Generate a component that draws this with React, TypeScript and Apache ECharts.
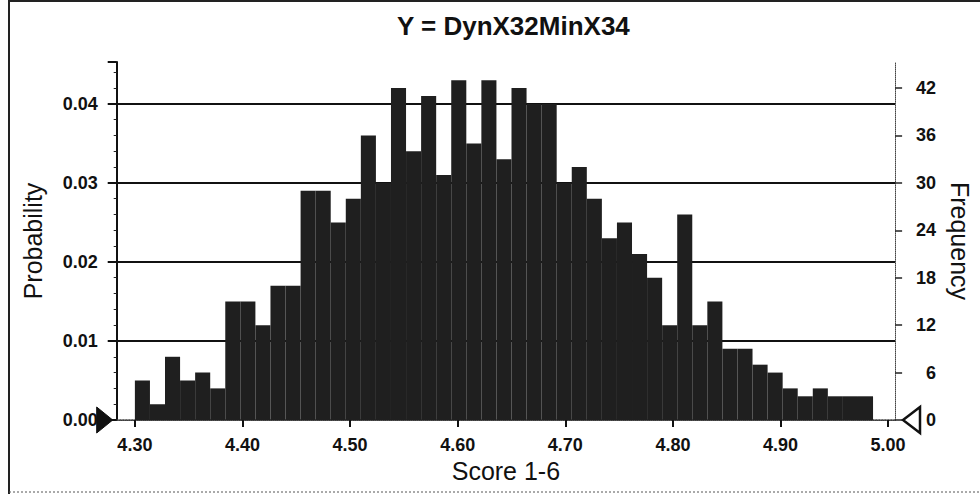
import React, { useEffect, useRef } from "react";
import * as echarts from "echarts";

const TITLE = "Y = DynX32MinX34";
const X_NAME = "Score 1-6";
const LEFT_NAME = "Probability";
const RIGHT_NAME = "Frequency";
const TRIALS = 1000;
const BIN_START = 4.3;
const BIN_WIDTH = 0.014;
const COUNTS = [
  5, 2, 8, 5, 6, 4, 15, 15, 12, 17, 17, 29, 29, 25, 28, 36,
  30, 42, 34, 41, 31, 43, 35, 43, 33, 42, 40, 40, 30, 32,
  28, 23, 25, 21, 18, 12, 26, 12, 15,
  9, 9, 7, 6, 4, 3, 4, 3, 3, 3, 0,
];
const X_TICKS = [4.3, 4.4, 4.5, 4.6, 4.7, 4.8, 4.9, 5.0];
const X_MIN = 4.2831;
const X_MAX = 5.0065;
const PROB_MAX = 0.0453;

const W = 980;
const H = 494;
const G_LEFT = 116.7;
const G_RIGHT = 80;
const G_TOP = 62;
const G_BOTTOM = 74;
const FONT = "'Liberation Sans', Arial, sans-serif";

export default function App() {
  const ref = useRef<HTMLDivElement>(null);
  useEffect(() => {
    if (!ref.current) return;
    const chart = echarts.init(ref.current, null, { renderer: "svg" });
    const data = COUNTS.map((c, i) => [
      BIN_START + i * BIN_WIDTH,
      BIN_START + (i + 1) * BIN_WIDTH,
      c,
    ]);
    const baseY = H - G_BOTTOM;
    const rightX = W - G_RIGHT;
    chart.setOption({
      animation: false,
      backgroundColor: "#ffffff",
      textStyle: { fontFamily: FONT },
      title: {
        text: TITLE,
        left: (G_LEFT + rightX) / 2,
        textAlign: "center",
        top: 8,
        textStyle: { fontFamily: FONT, fontSize: 26, fontWeight: "bold", color: "#111" },
      },
      grid: { left: G_LEFT, right: G_RIGHT, top: G_TOP, bottom: G_BOTTOM, containLabel: false },
      xAxis: [
        {
          type: "value",
          min: X_MIN,
          max: X_MAX,
          name: X_NAME,
          nameLocation: "middle",
          nameGap: 35,
          nameTextStyle: { fontFamily: FONT, fontSize: 25, color: "#111" },
          axisLine: { show: true, lineStyle: { color: "#333", width: 1, type: "dotted" } },
          axisTick: { show: true, length: 7, customValues: X_TICKS, lineStyle: { color: "#111", width: 2 } },
          axisLabel: {
            customValues: X_TICKS,
            formatter: (v: number) => v.toFixed(2),
            margin: 16,
            fontFamily: FONT,
            fontSize: 18,
            fontWeight: "bold",
            color: "#111",
          },
          splitLine: { show: false },
        },
        {
          type: "value",
          position: "top",
          min: X_MIN,
          max: X_MAX,
          axisLine: { show: true, lineStyle: { color: "#444", width: 1.5, type: "dotted" } },
          axisTick: { show: false },
          axisLabel: { show: false },
          splitLine: { show: false },
        },
      ],
      yAxis: [
        {
          type: "value",
          min: 0,
          max: PROB_MAX,
          interval: 0.01,
          name: LEFT_NAME,
          nameLocation: "middle",
          nameGap: 71,
          nameTextStyle: { fontFamily: FONT, fontSize: 25, color: "#111" },
          axisLine: { show: true, lineStyle: { color: "#111", width: 2 } },
          axisTick: { show: true, length: 9, lineStyle: { color: "#111", width: 2 } },
          minorTick: { show: true, splitNumber: 5, length: 3, lineStyle: { color: "#222", width: 1 } },
          axisLabel: {
            formatter: (v: number) => v.toFixed(2),
            margin: 19,
            fontFamily: FONT,
            fontSize: 18,
            fontWeight: "bold",
            color: "#111",
            showMaxLabel: false,
          },
          splitLine: {
            show: true,
            lineStyle: { color: ["rgba(0,0,0,0)", "#111", "#111", "#111", "#111"], width: 2 },
          },
        },
        {
          type: "value",
          min: 0,
          max: PROB_MAX * TRIALS,
          interval: 6,
          position: "right",
          name: RIGHT_NAME,
          nameLocation: "middle",
          nameGap: 50,
          nameRotate: -90,
          nameTextStyle: { fontFamily: FONT, fontSize: 25, color: "#111" },
          axisLine: { show: true, lineStyle: { color: "#444", width: 1, type: "dotted" } },
          axisTick: { show: true, length: 7, lineStyle: { color: "#222", width: 1.5 } },
          axisLabel: {
            align: "right",
            margin: 41,
            fontFamily: FONT,
            fontSize: 18,
            fontWeight: "bold",
            color: "#111",
            showMaxLabel: false,
          },
          splitLine: { show: false },
        },
      ],
      series: [
        {
          type: "custom",
          xAxisIndex: 0,
          yAxisIndex: 1,
          data,
          encode: { x: [0, 1], y: 2 },
          renderItem: (params: any, api: any) => {
            const x0 = api.value(0);
            const x1 = api.value(1);
            const v = api.value(2);
            const p0 = api.coord([x0, v]);
            const p1 = api.coord([x1, 0]);
            return {
              type: "rect",
              shape: { x: p0[0], y: p0[1], width: p1[0] - p0[0], height: p1[1] - p0[1] },
              style: { fill: "#1f1f1f" },
            };
          },
          z: 3,
        },
      ],
      graphic: [
        { type: "line", shape: { x1: 9, y1: 0, x2: 9, y2: H }, style: { stroke: "#222", lineWidth: 2 } },
        { type: "line", shape: { x1: 9, y1: 1, x2: W, y2: 1 }, style: { stroke: "#222", lineWidth: 2 } },
        { type: "line", shape: { x1: 9, y1: 492, x2: W, y2: 492 }, style: { stroke: "#555", lineWidth: 1, lineDash: [2, 2] } },
        {
          type: "polygon",
          z: 10,
          shape: { points: [[G_LEFT - 20, baseY - 13], [G_LEFT - 4, baseY], [G_LEFT - 20, baseY + 13]] },
          style: { fill: "#111", stroke: "#111", lineWidth: 1 },
        },
        {
          type: "polygon",
          z: 10,
          shape: { points: [[rightX + 20, baseY - 13], [rightX + 3, baseY], [rightX + 20, baseY + 13]] },
          style: { fill: "#fff", stroke: "#111", lineWidth: 2.5 },
        },
      ],
    });
    return () => chart.dispose();
  }, []);
  return (
    <div
      ref={ref}
      style={{ position: "fixed", left: 0, top: 0, width: W, height: H, background: "#fff" }}
    />
  );
}
